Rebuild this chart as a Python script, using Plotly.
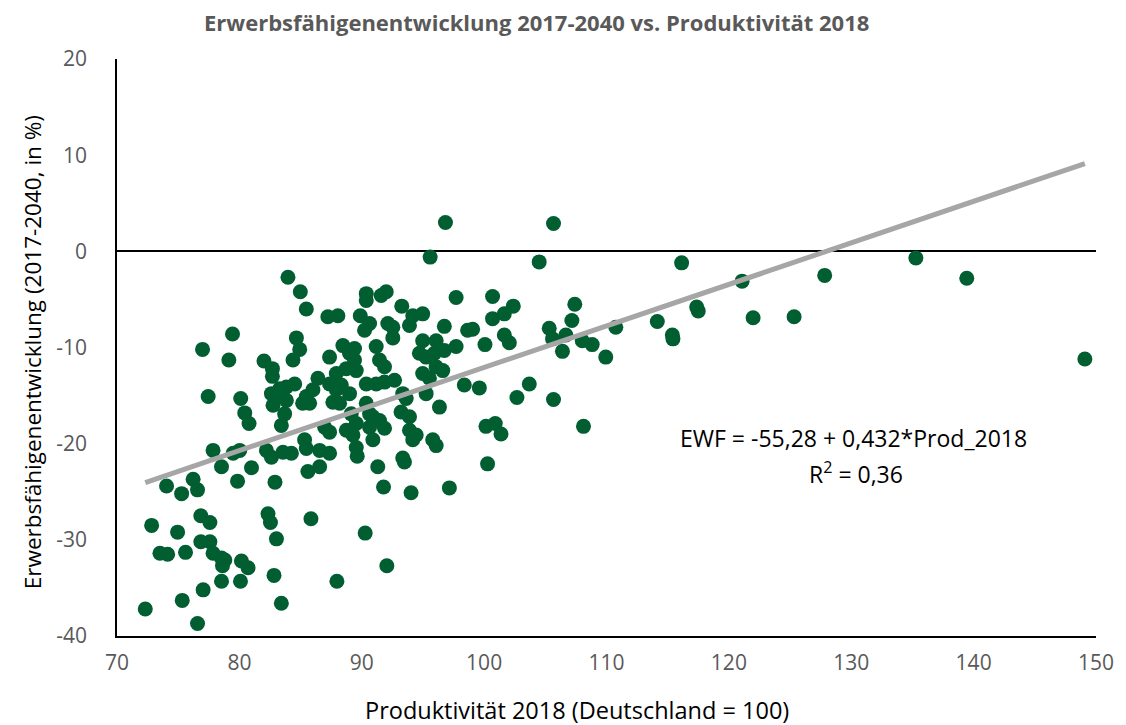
import plotly.graph_objects as go

# Produktivität 2018 (Deutschland = 100)
prod_2018 = [
    74.05, 75.28, 76.22, 76.58, 77.85, 80.03, 79.49, 78.54, 80.99, 82.21,
    82.62, 83.56, 84.25, 85.33, 85.47, 86.56, 85.60, 86.56, 79.85, 82.91,
    72.83, 76.85, 77.59, 74.95, 82.34, 82.54, 85.85, 83.03, 73.51, 74.14,
    75.60, 76.85, 77.59, 77.85, 78.54, 78.81, 78.62, 80.17, 80.71, 82.83,
    78.54, 80.09, 77.04, 75.33, 83.43, 72.31, 76.58, 90.28, 92.05, 87.97,
    83.97, 84.98, 85.47, 87.23, 79.44, 76.99, 84.66, 84.93, 84.38, 79.14,
    82.01, 82.70, 82.70, 87.37, 77.45, 80.11, 80.44, 80.79, 83.84, 84.52,
    82.75, 83.16, 83.70, 83.43, 86.42, 85.17, 95.59, 90.37, 90.37, 91.59,
    92.00, 97.71, 93.27, 88.05, 89.88, 90.64, 90.23, 92.13, 92.54, 94.17,
    94.98, 93.90, 96.75, 98.65, 88.46, 89.41, 91.18, 92.54, 94.98, 96.08,
    94.71, 95.26, 95.94, 96.75, 97.71, 89.41, 89.00, 91.45, 91.86, 96.08,
    96.62, 94.98, 95.53, 98.38, 87.92, 88.74, 89.55, 92.68, 91.86, 90.37,
    91.18, 83.30, 87.37, 88.33, 86.01, 85.47, 85.74, 87.92, 89.00, 87.64,
    88.19, 93.35, 93.63, 95.26, 96.35, 90.37, 90.64, 89.14, 89.55, 93.21,
    93.90, 90.91, 91.45, 91.86, 90.64, 88.74, 89.28, 86.97, 87.37, 82.62,
    83.84, 93.90, 94.45, 94.17, 95.80, 96.08, 90.91, 87.37, 89.55, 89.63,
    91.31, 91.78, 94.03, 97.16, 93.35, 93.49, 96.84, 105.67, 104.50, 100.69,
    102.38, 101.65, 100.69, 107.41, 107.17, 99.06, 105.32, 106.68, 105.59, 110.76,
    101.65, 102.06, 100.07, 108.02, 108.83, 106.40, 109.94, 99.61, 103.69, 102.68,
    105.67, 100.15, 100.91, 101.38, 108.12, 100.28, 116.14, 114.15, 115.38, 115.43,
    117.37, 117.50, 121.08, 121.98, 125.33, 127.83, 135.28, 139.44, 149.09,
]

# Erwerbsfähigenentwicklung 2017-2040 (in %)
ewf_change = [
    -24.4, -25.2, -23.7, -24.8, -20.7, -20.7, -21.0, -22.4, -22.5, -20.7,
    -21.4, -20.9, -21.0, -19.6, -20.5, -20.7, -22.9, -22.4, -23.9, -24.0,
    -28.5, -27.5, -28.2, -29.2, -27.3, -28.2, -27.8, -29.9, -31.4, -31.5,
    -31.3, -30.2, -30.2, -31.4, -31.9, -32.1, -32.7, -32.2, -32.9, -33.7,
    -34.3, -34.3, -35.2, -36.3, -36.6, -37.2, -38.7, -29.3, -32.7, -34.3,
    -2.7, -4.2, -6.0, -6.8, -8.6, -10.2, -9.0, -10.2, -11.3, -11.3,
    -11.4, -12.2, -13.0, -11.0, -15.1, -15.3, -16.8, -17.9, -14.1, -13.8,
    -16.0, -15.1, -16.9, -18.1, -13.2, -15.8, -0.6, -4.4, -5.1, -4.6,
    -4.2, -4.8, -5.7, -6.7, -6.7, -7.5, -8.2, -7.5, -7.9, -6.7,
    -6.5, -7.7, -7.8, -8.2, -9.8, -10.1, -9.9, -9.0, -9.3, -9.3,
    -10.6, -11.0, -10.6, -10.3, -9.9, -11.3, -10.6, -11.3, -12.0, -12.0,
    -12.4, -12.7, -13.2, -13.9, -12.7, -12.2, -12.4, -13.4, -13.6, -13.8,
    -13.8, -14.3, -13.8, -13.9, -14.4, -15.1, -15.8, -14.4, -14.8, -15.7,
    -15.8, -14.8, -15.3, -14.8, -16.2, -15.8, -16.9, -16.9, -17.9, -16.7,
    -17.2, -17.2, -17.6, -18.4, -18.3, -18.6, -19.1, -18.3, -18.8, -14.8,
    -15.5, -18.6, -19.1, -19.6, -19.6, -20.2, -19.6, -21.0, -20.4, -21.3,
    -22.4, -24.5, -25.1, -24.6, -21.5, -21.9, 3.0, 2.9, -1.1, -4.7,
    -5.7, -6.5, -7.0, -5.5, -7.2, -8.1, -8.0, -8.7, -9.1, -7.9,
    -8.7, -9.5, -9.7, -9.3, -9.7, -10.4, -11.0, -14.2, -13.8, -15.2,
    -15.4, -18.2, -17.9, -19.0, -18.2, -22.1, -1.2, -7.3, -8.7, -9.1,
    -5.8, -6.2, -3.1, -6.9, -6.8, -2.5, -0.7, -2.8, -11.2,
]

# Axis ticks
x_ticks = [70, 80, 90, 100, 110, 120, 130, 140, 150]
y_ticks = [-40, -30, -20, -10, 0, 10, 20]
y_tick_labels = ["-40", "-30", "-20", "-10", "0", "10", "20"]

# Linear trend: EWF = -55.28 + 0.432 * Prod_2018
intercept = -55.28
slope = 0.432
trend_x = [min(prod_2018), max(prod_2018)]
trend_y = [intercept + slope * v for v in trend_x]

title_text = "Erwerbsfähigenentwicklung 2017-2040 vs. Produktivität 2018"
x_title = "Produktivität 2018 (Deutschland = 100)"
y_title = "Erwerbsfähigenentwicklung (2017-2040, in %)"
eq_text = "EWF = -55,28 + 0,432*Prod_2018"
r2_text = "R<sup>2</sup> = 0,36"

FONT = "Open Sans"

fig = go.Figure()
fig.add_trace(go.Scatter(
    x=prod_2018, y=ewf_change, mode="markers",
    marker=dict(size=15, color="#005E30", line=dict(width=0)),
    hoverinfo="x+y", showlegend=False,
))
fig.add_trace(go.Scatter(
    x=trend_x, y=trend_y, mode="lines",
    line=dict(color="#A6A6A6", width=5),
    hoverinfo="skip", showlegend=False,
))

fig.update_layout(
    width=1118, height=717,
    margin=dict(l=109, r=21, t=51, b=89),
    paper_bgcolor="white", plot_bgcolor="white",
    font=dict(family=FONT, color="#595959", size=20),
    xaxis=dict(
        range=[70, 150], tickvals=x_ticks,
        showgrid=False, zeroline=False,
        showline=True, linecolor="#000000", linewidth=2,
        ticks="", ticklabelstandoff=7,
        tickfont=dict(size=21, color="#595959", family=FONT),
        fixedrange=True,
    ),
    yaxis=dict(
        range=[-40, 20], tickvals=y_ticks, ticktext=y_tick_labels,
        showgrid=False,
        zeroline=True, zerolinecolor="#000000", zerolinewidth=1.5,
        showline=True, linecolor="#000000", linewidth=1.5,
        ticks="", ticklabelstandoff=24,
        tickfont=dict(size=21, color="#595959", family=FONT),
        fixedrange=True,
    ),
    annotations=[
        dict(text="<b>" + title_text + "</b>", xref="paper", yref="paper",
             x=0.4286, y=1.0642, xanchor="center", yanchor="middle",
             showarrow=False, font=dict(size=22, color="#595959", family=FONT)),
        dict(text=x_title, xref="paper", yref="paper",
             x=0.470, y=-0.128, xanchor="center", yanchor="middle",
             showarrow=False, font=dict(size=23.5, color="#000000", family=FONT)),
        dict(text=y_title, xref="paper", yref="paper", textangle=-90,
             x=-0.0867, y=0.492, xanchor="center", yanchor="middle",
             showarrow=False, font=dict(size=22.5, color="#000000", family=FONT)),
        dict(text=eq_text, xref="x", yref="y", x=130.2, y=-19.4,
             xanchor="center", yanchor="middle", showarrow=False,
             font=dict(size=23, color="#000000", family=FONT)),
        dict(text=r2_text, xref="x", yref="y", x=130.4, y=-23.0,
             xanchor="center", yanchor="middle", showarrow=False,
             font=dict(size=23, color="#000000", family=FONT)),
    ],
)

fig.write_html("out.html")
